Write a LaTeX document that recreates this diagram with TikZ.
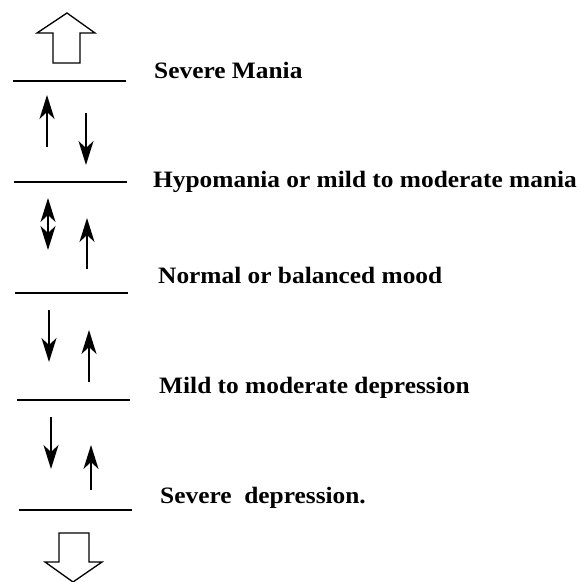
\documentclass[tikz,border=0pt]{standalone}
\usepackage{fontspec}
\setmainfont{Liberation Serif}[FakeStretch=1.08]
\usetikzlibrary{arrows.meta}
\begin{document}
\begin{tikzpicture}[x=1pt,y=-1pt,
  level/.style={line width=1.7pt},
  tipst/.style={-{Stealth[length=24pt,width=15pt,inset=7pt]}},
  arr/.style={line width=1.6pt,tipst},
  darr/.style={line width=1.6pt,{Stealth[length=24pt,width=15pt,inset=7pt]}-{Stealth[length=24pt,width=15pt,inset=7pt]}},
  hollow/.style={line width=1.3pt,fill=white,line join=miter},
  lab/.style={anchor=base west,inner sep=0pt,font=\fontsize{23.5}{28}\selectfont\bfseries}]
\useasboundingbox[fill=white] (0,0) rectangle (581,582);
% hollow arrows
\draw[hollow] (53,63) -- (53,33) -- (37,33) -- (67,13) -- (95,33) -- (80,33) -- (80,63) -- cycle;
\draw[hollow] (59,533) -- (59,562) -- (45,562) -- (73,582) -- (102,562) -- (89,562) -- (89,533) -- cycle;
% level lines
\coordinate (l1a) at (13,81);  \coordinate (l1b) at (126,81);
\coordinate (l2a) at (14,182); \coordinate (l2b) at (127,182);
\coordinate (l3a) at (15,293); \coordinate (l3b) at (128,293);
\coordinate (l4a) at (17,400); \coordinate (l4b) at (130,400);
\coordinate (l5a) at (19,510); \coordinate (l5b) at (132,510);
\draw[level] (l1a) -- (l1b);
\draw[level] (l2a) -- (l2b);
\draw[level] (l3a) -- (l3b);
\draw[level] (l4a) -- (l4b);
\draw[level] (l5a) -- (l5b);
% small arrows
\coordinate (a1s) at (47,147); \coordinate (a1e) at (47,95);
\coordinate (b1s) at (86,113); \coordinate (b1e) at (86,165);
\coordinate (a2s) at (48,198); \coordinate (a2e) at (48,250);
\coordinate (b2s) at (87,269); \coordinate (b2e) at (87,218);
\coordinate (a3s) at (49,310); \coordinate (a3e) at (49,362);
\coordinate (b3s) at (89,382); \coordinate (b3e) at (89,330);
\coordinate (a4s) at (51,417); \coordinate (a4e) at (51,469);
\coordinate (b4s) at (91,490); \coordinate (b4e) at (91,445);
\draw[arr] (a1s) -- (a1e);
\draw[arr] (b1s) -- (b1e);
\draw[darr] (a2s) -- (a2e);
\draw[arr] (b2s) -- (b2e);
\draw[arr] (a3s) -- (a3e);
\draw[arr] (b3s) -- (b3e);
\draw[arr] (a4s) -- (a4e);
\draw[arr] (b4s) -- (b4e);
% labels
\node[lab] (t1) at (154,78) {Severe Mania};
\node[lab] (t2) at (153,187) {Hypomania or mild to moderate mania};
\node[lab] (t3) at (158,283) {Normal or balanced mood};
\node[lab] (t4) at (159,393) {Mild to moderate depression};
\node[lab] (t5) at (160,503) {Severe\ \ depression.};
\end{tikzpicture}
\end{document}
